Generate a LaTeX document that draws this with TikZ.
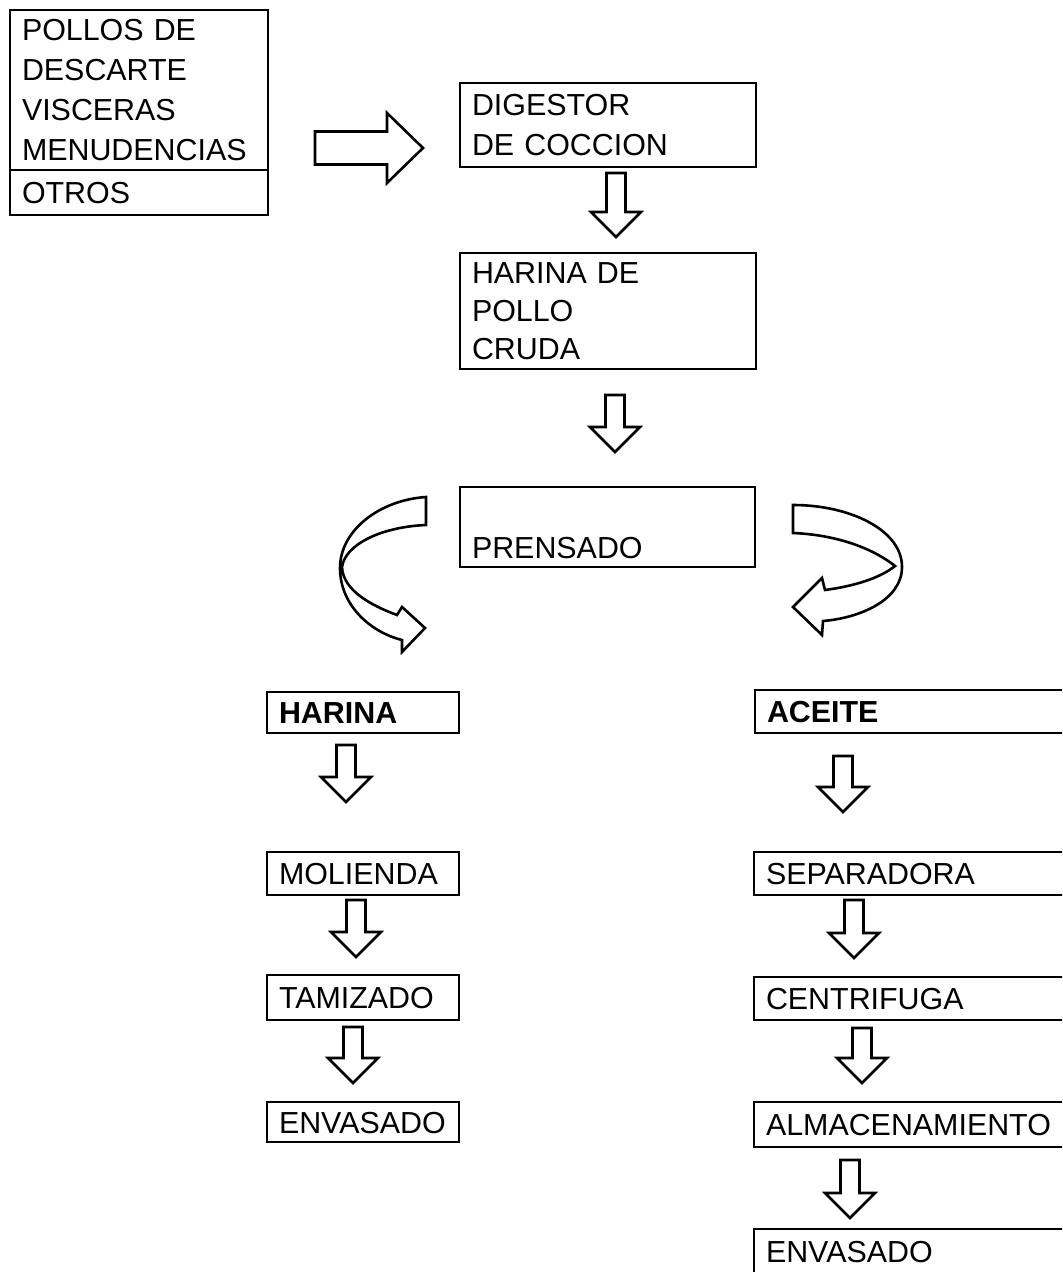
\documentclass[tikz,border=0pt]{standalone}
\usepackage{fontspec}
\setmainfont{Liberation Sans}
\usetikzlibrary{positioning}

\begin{document}
\begin{tikzpicture}[
  x=0.5pt, y=-0.5pt,
  caja/.style={draw, line width=1.3pt, outer sep=0pt, inner xsep=6pt, inner ysep=0pt,
    anchor=north west, align=left, font=\fontsize{15.2}{20}\selectfont,
    execute at begin node=\rule{0pt}{15.5pt},
    execute at end node=\rule[-4.5pt]{0pt}{4.5pt}},
  angosta/.style={caja, text width=84pt},
  ancha/.style={caja, text width=136pt},
  larga/.style={caja, text width=153pt},
  blk/.style={draw, line width=1.3pt, line join=miter, fill=white},
  pics/bajada/.style={code={
    \draw[blk] (-9.5,0) -- (9.5,0) -- (9.5,#1-25) -- (25,#1-25) -- (0,#1)
      -- (-25,#1-25) -- (-9.5,#1-25) -- cycle;}},
  pics/derecha/.style={code={
    \draw[blk] (0,-16.5) -- (72,-16.5) -- (72,-35) -- (108,0) -- (72,35)
      -- (72,16.5) -- (0,16.5) -- cycle;}}
]
\path[fill=white, use as bounding box] (0,0) rectangle (1062,1272);
\clip (0,0) rectangle (1062,1272);

% materia prima
\node[caja, text width=117pt, minimum height=77.5pt] (fuente) at (10,10)
  {POLLOS DE\\DESCARTE\\VISCERAS\\MENUDENCIAS};
\node[caja, text width=117pt, minimum height=22.5pt] (otros) at (fuente.south west) {OTROS};
\pic (f0) at (315,148) {derecha};

% linea central
\node[ancha, minimum height=42pt] (digestor) at (460,83) {DIGESTOR\\DE COCCION};
\pic (f1) at (616,173) {bajada=64};
\node[ancha, minimum height=57pt, font=\fontsize{15.2}{19}\selectfont] (cruda) at (460,253)
  {HARINA DE\\POLLO\\CRUDA};
\pic (f2) at (615,395) {bajada=57};
\node[caja, text width=135.5pt, minimum height=40pt] (prensado) at (460,487) {\mbox{}\\PRENSADO};

% flechas curvas
\draw[blk] (426,497) .. controls (380,500) and (340,530) .. (340,568)
  .. controls (340,605) and (370,632) .. (402,640) -- (402,652) -- (425,628)
  -- (402,607) -- (397,615) .. controls (370,605) and (343,590) .. (342,567)
  .. controls (345,545) and (380,527) .. (426,525) -- cycle;
\draw[blk] (793,505) .. controls (850,505) and (902,530) .. (902,567)
  .. controls (902,600) and (860,618) .. (823,621) -- (822,635) -- (793,607)
  -- (822,578) -- (825,590) .. controls (855,586) and (880,578) .. (895,566)
  .. controls (875,550) and (840,535) .. (793,533) -- cycle;

% harina
\node[angosta, minimum height=20.5pt, font=\fontsize{15.2}{20}\selectfont\bfseries] (harina) at (267,692) {HARINA};
\pic (h1) at (346,745) {bajada=57};
\node[angosta, minimum height=21.5pt] (molienda) at (267,852) {MOLIENDA};
\pic (h2) at (356,900) {bajada=57};
\node[angosta, minimum height=22.5pt] (tamizado) at (267,975) {TAMIZADO};
\pic (h3) at (353,1027) {bajada=56};
\node[angosta, minimum height=20pt] (envasadoh) at (267,1102) {ENVASADO};

% aceite
\node[larga, minimum height=21.5pt, font=\fontsize{15.2}{20}\selectfont\bfseries] (aceite) at (755,690) {ACEITE};
\pic (a1) at (843,756) {bajada=56};
\node[larga, minimum height=21.5pt] (separadora) at (754,852) {SEPARADORA};
\pic (a2) at (854,900) {bajada=58};
\node[larga, minimum height=21.5pt] (centrifuga) at (754,977) {CENTRIFUGA};
\pic (a3) at (862,1028) {bajada=55};
\node[larga, minimum height=22.5pt] (almacen) at (754,1102) {ALMACENAMIENTO};
\pic (a4) at (850,1160) {bajada=58};
\node[larga, minimum height=22.5pt] (envasadoa) at (754,1229) {ENVASADO};
\end{tikzpicture}
\end{document}
